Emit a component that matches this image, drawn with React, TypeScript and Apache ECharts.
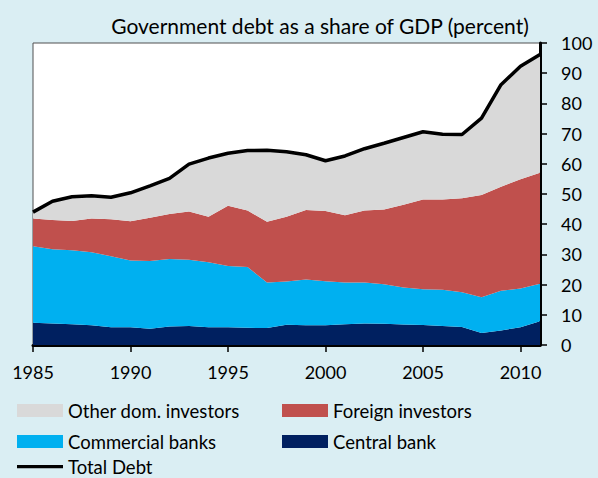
import React, { useEffect, useRef } from "react";
import * as echarts from "echarts";

const years = ["1985", "1986", "1987", "1988", "1989", "1990", "1991", "1992", "1993", "1994", "1995", "1996", "1997", "1998", "1999", "2000", "2001", "2002", "2003", "2004", "2005", "2006", "2007", "2008", "2009", "2010", "2011"];
const labelledYears = ["1985", "1990", "1995", "2000", "2005", "2010"];
const centralBank = [7.4, 7.1, 6.9, 6.5, 5.9, 5.9, 5.4, 6.1, 6.3, 5.9, 5.9, 5.7, 5.6, 6.7, 6.5, 6.5, 6.9, 7.1, 7.0, 6.8, 6.6, 6.3, 6.0, 4.0, 4.8, 5.9, 7.9];
const commercialBanks = [25.3, 24.6, 24.5, 24.2, 23.5, 22.1, 22.4, 22.4, 21.9, 21.5, 20.3, 20.1, 15.1, 14.3, 15.2, 14.6, 13.8, 13.6, 13.1, 12.2, 11.9, 12.0, 11.5, 11.8, 13.2, 12.8, 12.4];
const foreignInvestors = [9.2, 9.7, 9.7, 11.2, 12.2, 13.0, 14.3, 14.9, 16.0, 15.1, 19.9, 18.7, 20.1, 21.5, 23.0, 23.3, 22.3, 23.8, 24.8, 27.4, 29.7, 29.9, 31.1, 33.9, 34.4, 36.2, 36.7];
const otherDomestic = [2.1, 6.2, 8.0, 7.5, 7.3, 9.4, 10.6, 11.8, 15.7, 19.4, 17.4, 19.9, 23.7, 21.5, 18.3, 16.6, 19.6, 20.5, 21.9, 22.3, 22.4, 21.6, 21.1, 25.4, 33.8, 37.4, 39.2];
const totalDebt = [44.0, 47.6, 49.1, 49.4, 48.9, 50.4, 52.7, 55.2, 59.9, 61.9, 63.5, 64.4, 64.5, 64.0, 63.0, 61.0, 62.6, 65.0, 66.8, 68.7, 70.6, 69.8, 69.7, 75.1, 86.2, 92.3, 96.2];

const title = "Government debt as a share of GDP (percent)";
const FONT = "Lato";

export default function App() {
  const ref = useRef<HTMLDivElement>(null);
  useEffect(() => {
    if (!ref.current) return;
    const chart = echarts.init(ref.current, undefined, { renderer: "svg" });
    const area = (name: string, color: string, vals: number[]) => ({
      name,
      type: "line",
      stack: "debt",
      data: vals,
      showSymbol: false,
      symbol: "none",
      color,
      lineStyle: { width: 0, color },
      areaStyle: { color, opacity: 1 },
      itemStyle: { color },
      z: 2,
    });
    const legendText = { fontFamily: FONT, fontSize: 18.5, color: "#000" };
    const lg = (name: string, left: number, top: number, icon: string) => ({
      orient: "horizontal",
      left,
      top,
      padding: 0,
      itemWidth: 46,
      itemHeight: 13,
      textStyle: legendText,
      data: [{ name, icon }],
    });
    const lineIcon = "path://M0,0H46V0.01H0Z M0,5H46V8.2H0Z M0,12.99H46V13H0Z";
    const showLabel = (_i: number, v: string) => labelledYears.indexOf(v) >= 0;
    chart.setOption({
      animation: false,
      backgroundColor: "#DAEEF3",
      textStyle: { fontFamily: FONT },
      graphic: [
        {
          type: "text",
          x: 320,
          y: 25.5,
          style: {
            text: title,
            fontFamily: FONT,
            fontSize: 21,
            fill: "#000",
            align: "center",
            verticalAlign: "middle",
          },
        },
      ],
      grid: {
        left: 33,
        right: 58,
        top: 43,
        bottom: 133,
        show: true,
        backgroundColor: "#ffffff",
        borderColor: "#505050",
        borderWidth: 1,
      },
      legend: [
        lg("Other dom. investors", 17, 401, "rect"),
        lg("Commercial banks", 17, 432, "rect"),
        lg("Total Debt", 17, 457, lineIcon),
        lg("Foreign investors", 282, 401, "rect"),
        lg("Central bank", 282, 432, "rect"),
      ],
      xAxis: {
        type: "category",
        data: years,
        boundaryGap: false,
        axisLine: { show: true, lineStyle: { color: "#000", width: 3 } },
        axisTick: { show: true, interval: showLabel, length: 7, lineStyle: { color: "#000", width: 1.5 } },
        axisLabel: {
          interval: showLabel,
          fontFamily: FONT,
          fontSize: 18,
          color: "#000",
          margin: 18,
        },
        splitLine: { show: false },
      },
      yAxis: {
        type: "value",
        position: "right",
        min: 0,
        max: 100,
        interval: 10,
        axisLine: { show: true, lineStyle: { color: "#000", width: 3 } },
        axisTick: { show: true, length: 7, lineStyle: { color: "#000", width: 1.5 } },
        axisLabel: { fontFamily: FONT, fontSize: 18, color: "#000", margin: 21 },
        splitLine: { show: false },
      },
      series: [
        area("Central bank", "#002060", centralBank),
        area("Commercial banks", "#00B0F0", commercialBanks),
        area("Foreign investors", "#C0504D", foreignInvestors),
        area("Other dom. investors", "#D9D9D9", otherDomestic),
        {
          name: "Total Debt",
          type: "line",
          data: totalDebt,
          showSymbol: false,
          symbol: "none",
          color: "#000",
          lineStyle: { width: 3.5, color: "#000" },
          itemStyle: { color: "#000" },
          z: 5,
        },
      ],
    });
    return () => chart.dispose();
  }, []);
  return (
    <div
      ref={ref}
      style={{ position: "fixed", left: 0, top: 0, width: 598, height: 478 }}
    />
  );
}
